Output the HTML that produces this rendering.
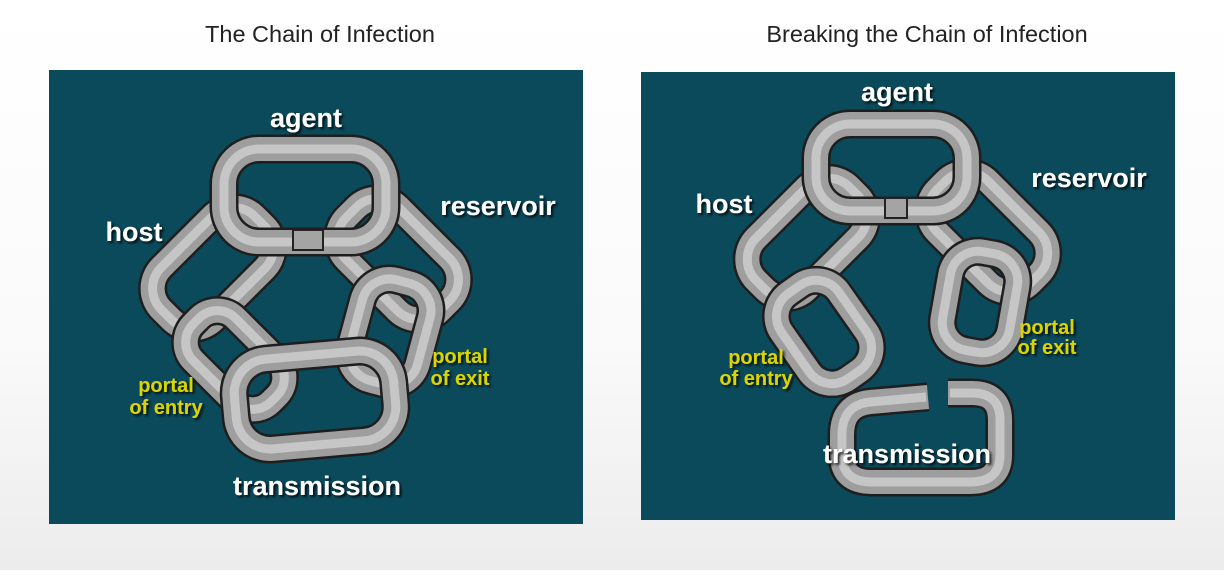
<!DOCTYPE html><html><head><style>
html,body{margin:0;padding:0}
body{width:1224px;height:570px;overflow:hidden;background:linear-gradient(#fff 0%,#fafafa 60%,#ececec 100%);font-family:"Liberation Sans",sans-serif}
</style></head><body>
<svg width="1224" height="570" xmlns="http://www.w3.org/2000/svg">
<defs>
<filter id="sh" x="-20%" y="-20%" width="140%" height="140%"><feDropShadow dx="2" dy="2" stdDeviation="1.2" flood-color="#000" flood-opacity="0.8"/></filter>
</defs>
<style>
.o{fill:none;stroke:#1e1e1e;stroke-width:29}
.m{fill:none;stroke:#9e9e9e;stroke-width:24}
.h{fill:none;stroke:#c6c6c6;stroke-width:9}
.w{fill:#fff;font-weight:bold;font-size:27px;text-anchor:middle;filter:url(#sh)}
.y{fill:#dcd400;font-weight:bold;font-size:20px;text-anchor:middle;filter:url(#sh)}
.t{fill:#222;font-size:23.5px;text-anchor:middle}
</style>
<text class="t" x="320" y="42">The Chain of Infection</text>
<text class="t" x="927" y="42">Breaking the Chain of Infection</text>
<rect x="49" y="70" width="534" height="454" fill="#0b4a5b"/>
<rect x="641" y="72" width="534" height="448" fill="#0b4a5b"/>

<!-- LEFT -->
<g>
<g transform="translate(213,268) rotate(-45)"><rect class="o" x="-66" y="-37" width="132" height="74" rx="30"/><rect class="m" x="-66" y="-37" width="132" height="74" rx="30"/><rect class="h" x="-66" y="-37" width="132" height="74" rx="30"/></g>
<g transform="translate(398,259) rotate(45)"><rect class="o" x="-66" y="-37" width="132" height="74" rx="30"/><rect class="m" x="-66" y="-37" width="132" height="74" rx="30"/><rect class="h" x="-66" y="-37" width="132" height="74" rx="30"/></g>
<g transform="translate(235,360) rotate(45)"><rect class="o" x="-55" y="-30" width="110" height="60" rx="26"/><rect class="m" x="-55" y="-30" width="110" height="60" rx="26"/><rect class="h" x="-55" y="-30" width="110" height="60" rx="26"/></g>
<g transform="translate(390,332) rotate(15)"><rect class="o" x="-35" y="-52" width="70" height="104" rx="28"/><rect class="m" x="-35" y="-52" width="70" height="104" rx="28"/><rect class="h" x="-35" y="-52" width="70" height="104" rx="28"/></g>
<g><rect class="o" x="224" y="149" width="162" height="93" rx="35"/><rect class="m" x="224" y="149" width="162" height="93" rx="35"/><rect class="h" x="224" y="149" width="162" height="93" rx="35"/></g>
<g transform="translate(315,400) rotate(-5)"><rect class="o" x="-80" y="-45" width="160" height="90" rx="34"/><rect class="m" x="-80" y="-45" width="160" height="90" rx="34"/><rect class="h" x="-80" y="-45" width="160" height="90" rx="34"/></g>
<rect x="293" y="230" width="30" height="20" fill="#a4a4a4" stroke="#222" stroke-width="2"/>
</g>
<text class="w" x="306" y="127">agent</text>
<text class="w" x="134" y="241">host</text>
<text class="w" x="498" y="215">reservoir</text>
<text class="y" x="166" y="392">portal</text>
<text class="y" x="166" y="414">of entry</text>
<text class="y" x="460" y="363">portal</text>
<text class="y" x="460" y="385">of exit</text>
<text class="w" x="317" y="495">transmission</text>

<!-- RIGHT -->
<g>
<g transform="translate(807,238) rotate(-45)"><rect class="o" x="-66" y="-36" width="132" height="72" rx="30"/><rect class="m" x="-66" y="-36" width="132" height="72" rx="30"/><rect class="h" x="-66" y="-36" width="132" height="72" rx="30"/></g>
<g transform="translate(988,232) rotate(45)"><rect class="o" x="-66" y="-36" width="132" height="72" rx="30"/><rect class="m" x="-66" y="-36" width="132" height="72" rx="30"/><rect class="h" x="-66" y="-36" width="132" height="72" rx="30"/></g>
<g transform="translate(824,332) rotate(-35)"><rect class="o" x="-35" y="-52" width="70" height="104" rx="28"/><rect class="m" x="-35" y="-52" width="70" height="104" rx="28"/><rect class="h" x="-35" y="-52" width="70" height="104" rx="28"/></g>
<g transform="translate(980,302) rotate(10)"><rect class="o" x="-34" y="-50" width="68" height="100" rx="28"/><rect class="m" x="-34" y="-50" width="68" height="100" rx="28"/><rect class="h" x="-34" y="-50" width="68" height="100" rx="28"/></g>
<g><rect class="o" x="816" y="124" width="151" height="87" rx="34"/><rect class="m" x="816" y="124" width="151" height="87" rx="34"/><rect class="h" x="816" y="124" width="151" height="87" rx="34"/></g>
<rect x="885" y="198" width="22" height="20" fill="#a4a4a4" stroke="#222" stroke-width="2"/>
<g>
<path class="o" d="M928,397 L870,402 Q842,405 842,435 L842,455 Q842,482 872,482 L970,482 Q1000,482 1000,455 L1000,420 Q1000,393 972,393 L948,393"/>
<path class="m" d="M928,397 L870,402 Q842,405 842,435 L842,455 Q842,482 872,482 L970,482 Q1000,482 1000,455 L1000,420 Q1000,393 972,393 L948,393"/>
<path class="h" d="M926,397 L870,402 Q842,405 842,435 L842,455 Q842,482 872,482 L970,482 Q1000,482 1000,455 L1000,420 Q1000,393 972,393 L950,393"/>
</g>
</g>
<text class="w" x="897" y="101">agent</text>
<text class="w" x="724" y="213">host</text>
<text class="w" x="1089" y="187">reservoir</text>
<text class="y" x="756" y="364">portal</text>
<text class="y" x="756" y="385">of entry</text>
<text class="y" x="1047" y="334">portal</text>
<text class="y" x="1047" y="354">of exit</text>
<text class="w" x="907" y="463">transmission</text>
</svg>
</body></html>
